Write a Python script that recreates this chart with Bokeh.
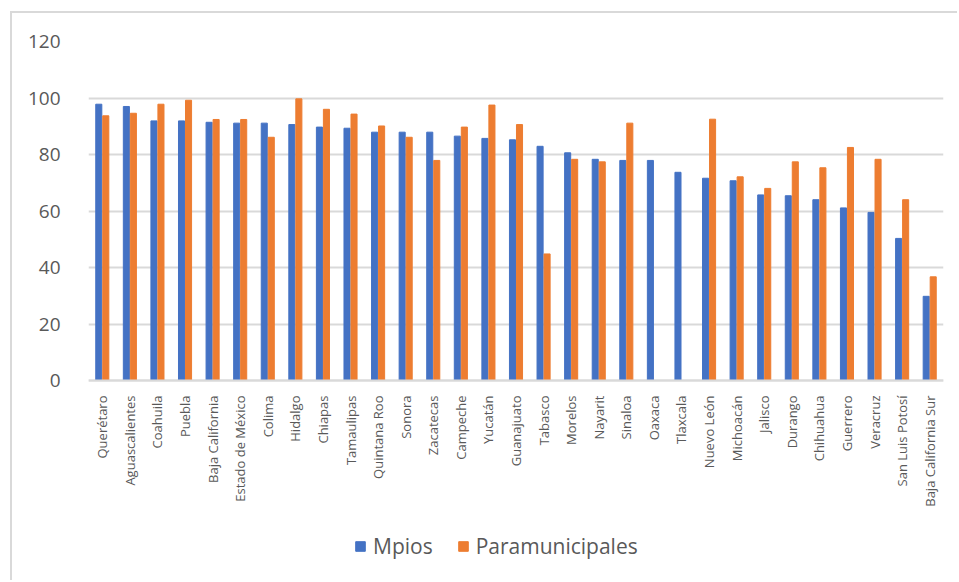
from bokeh.plotting import figure
from bokeh.models import FactorRange, Range1d, FixedTicker, ColumnDataSource
from bokeh.transform import dodge
from bokeh.embed import file_html
from bokeh.resources import INLINE
import math

categories = ["Querétaro", "Aguascalientes", "Coahuila", "Puebla", "Baja California",
              "Estado de México", "Colima", "Hidalgo", "Chiapas", "Tamaulipas",
              "Quintana Roo", "Sonora", "Zacatecas", "Campeche", "Yucatán",
              "Guanajuato", "Tabasco", "Morelos", "Nayarit", "Sinaloa", "Oaxaca",
              "Tlaxcala", "Nuevo León", "Michoacán", "Jalisco", "Durango",
              "Chihuahua", "Guerrero", "Veracruz", "San Luis Potosí",
              "Baja California Sur"]
mpios = [97.8, 97.0, 91.9, 91.9, 91.4, 91.1, 91.1, 90.6, 89.7, 89.3,
         87.9, 87.9, 87.9, 86.5, 85.7, 85.2, 82.9, 80.6, 78.3, 77.9, 77.9,
         73.7, 71.6, 70.7, 65.7, 65.4, 64.0, 61.1, 59.5, 50.3, 29.8]
nan = float("nan")
paramunicipales = [93.7, 94.6, 97.8, 99.2, 92.4, 92.4, 86.1, 99.7, 96.0, 94.3,
                   90.1, 86.1, 77.9, 89.7, 97.5, 90.6, 44.8, 78.3, 77.4, 91.1, nan,
                   nan, 92.5, 72.1, 68.0, 77.4, 75.3, 82.5, 78.3, 64.0, 36.7]
y_ticks = [0, 20, 40, 60, 80, 100, 120]

src = ColumnDataSource(dict(cat=categories, mpios=mpios, para=paramunicipales))

# frame spans y 41..582 px of the page; value 0 sits at y=380 px (2.825 px per unit)
p = figure(width=947, height=569, output_backend="svg", toolbar_location=None,
           x_range=FactorRange(*categories, range_padding=0),
           y_range=Range1d(-71.5, 120),
           min_border_left=76, min_border_right=16, min_border_top=28,
           min_border_bottom=0, margin=(11, 0, 0, 10),
           styles={"border-left": "2px solid #d9d9d9", "border-top": "2px solid #d9d9d9"})
p.background_fill_color = "white"
p.border_fill_color = "white"
p.outline_line_color = None

p.vbar(x=dodge("cat", -0.127, range=p.x_range), top="mpios", width=0.22,
       source=src, color="#4472C4", legend_label="Mpios")
p.vbar(x=dodge("cat", 0.127, range=p.x_range), top="para", width=0.22,
       source=src, color="#ED7D31", legend_label="Paramunicipales")

p.yaxis.ticker = FixedTicker(ticks=y_ticks)
p.yaxis.axis_line_color = None
p.yaxis.major_tick_line_color = None
p.yaxis.minor_tick_line_color = None
p.yaxis.major_label_standoff = 22
p.yaxis.major_label_text_font = "Open Sans"
p.yaxis.major_label_text_font_size = "19px"
p.yaxis.major_label_text_color = "#595959"

p.xaxis.fixed_location = 0
p.xaxis.axis_line_color = "#d9d9d9"
p.xaxis.axis_line_width = 2
p.xaxis.major_tick_line_color = None
p.xaxis.minor_tick_line_color = None
p.xaxis.major_label_orientation = math.pi / 2
p.xaxis.major_label_standoff = 9
p.xaxis.major_label_text_font = "Open Sans"
p.xaxis.major_label_text_font_size = "13px"
p.xaxis.major_label_text_color = "#595959"

p.xgrid.grid_line_color = None
p.ygrid.grid_line_color = "#d9d9d9"
p.ygrid.grid_line_width = 2

lg = p.legend[0]
lg.location = (266, 22)
lg.orientation = "horizontal"
lg.label_text_font = "Open Sans"
lg.label_text_font_size = "21px"
lg.label_text_color = "#595959"
lg.glyph_width = 12
lg.glyph_height = 12
lg.spacing = 24
lg.padding = 0
lg.margin = 0
lg.label_standoff = 7
lg.border_line_color = None
lg.background_fill_alpha = 0

open("out.html", "w").write(file_html(p, INLINE))
